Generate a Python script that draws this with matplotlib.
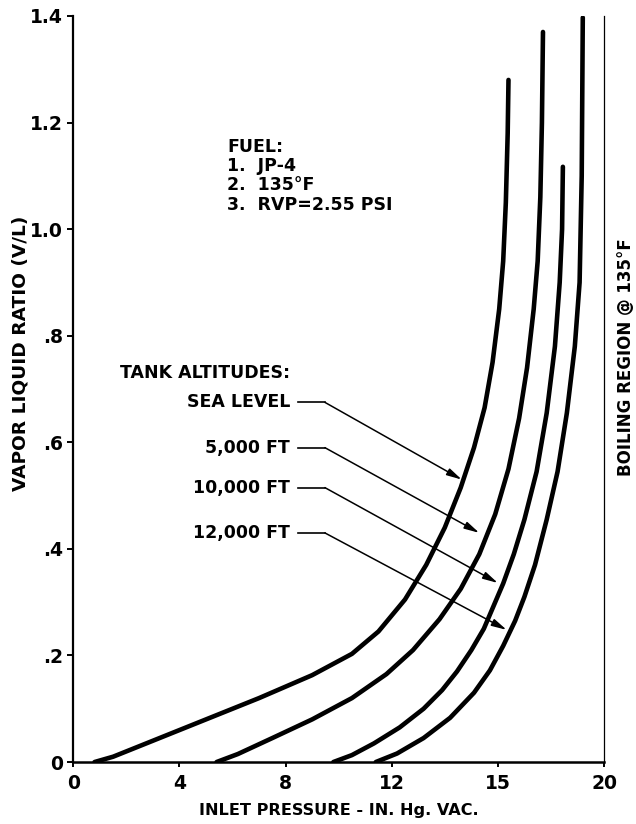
import matplotlib
matplotlib.use("Agg")
import matplotlib.pyplot as plt

plt.rcParams['font.family'] = ['DejaVu Sans']
plt.rcParams['font.weight'] = 'bold'

# curve readings (x = inlet pressure, in. Hg vac; y = V/L)
sea_x = [0.8, 1.5, 3.0, 5.0, 7.0, 9.0, 10.5, 11.5, 12.5, 13.3, 14.0, 14.6, 15.1, 15.5, 15.8, 16.05, 16.2, 16.3, 16.37, 16.4]
sea_y = [0.0, 0.01, 0.04, 0.08, 0.12, 0.163, 0.203, 0.245, 0.305, 0.37, 0.44, 0.515, 0.59, 0.665, 0.75, 0.85, 0.94, 1.05, 1.18, 1.28]

ft5k_x = [5.4, 6.2, 7.5, 9.0, 10.5, 11.8, 12.8, 13.8, 14.6, 15.3, 15.9, 16.4, 16.8, 17.1, 17.35, 17.5, 17.6, 17.66, 17.7]
ft5k_y = [0.0, 0.015, 0.045, 0.08, 0.12, 0.165, 0.21, 0.268, 0.325, 0.39, 0.465, 0.55, 0.645, 0.74, 0.85, 0.94, 1.06, 1.2, 1.37]

ft10k_x = [9.8, 10.5, 11.33, 12.3, 13.2, 13.9, 14.46, 15.0, 15.47, 16.2, 16.6, 17.0, 17.46, 17.84, 18.15, 18.33, 18.42, 18.45]
ft10k_y = [0.0, 0.013, 0.035, 0.065, 0.1, 0.135, 0.17, 0.21, 0.25, 0.335, 0.39, 0.455, 0.545, 0.655, 0.78, 0.9, 1.0, 1.117]

ft12k_x = [11.4, 12.2, 13.2, 14.2, 15.1, 15.7, 16.2, 16.65, 17.0, 17.4, 17.84, 18.25, 18.6, 18.9, 19.08, 19.16, 19.2]
ft12k_y = [0.0, 0.016, 0.045, 0.083, 0.13, 0.172, 0.218, 0.265, 0.31, 0.37, 0.455, 0.545, 0.655, 0.78, 0.9, 1.1, 1.397]

alt_labels = ['SEA LEVEL', '5,000 FT', '10,000 FT', '12,000 FT']
label_y = [0.675, 0.59, 0.515, 0.43]
arrow_tip_x = [14.64, 15.3, 16.0, 16.33]
arrow_tip_y = [0.53, 0.43, 0.336, 0.248]

xtick_pos = [0, 4, 8, 12, 16, 20]
xtick_lab = ['0', '4', '8', '12', '15', '20']
ytick_pos = [0, 0.2, 0.4, 0.6, 0.8, 1.0, 1.2, 1.4]
ytick_lab = ['0', '.2', '.4', '.6', '.8', '1.0', '1.2', '1.4']

fig = plt.figure(figsize=(6.36, 8.24), dpi=100)
ax = fig.add_axes([0.1153, 0.0752, 0.8344, 0.9054])

for xs, ys in [(sea_x, sea_y), (ft5k_x, ft5k_y), (ft10k_x, ft10k_y), (ft12k_x, ft12k_y)]:
    ax.plot(xs, ys, color='black', linewidth=3.3, solid_capstyle='round', solid_joinstyle='round')

ax.set_xlim(0, 20)
ax.set_ylim(0, 1.4)
ax.set_xticks(xtick_pos)
ax.set_xticklabels(xtick_lab)
ax.set_yticks(ytick_pos)
ax.set_yticklabels(ytick_lab)
ax.tick_params(axis='y', direction='out', length=4.5, width=1.4, labelsize=13.5, pad=3)
ax.tick_params(axis='x', direction='out', length=3.5, width=1.4, labelsize=13.5, pad=5)

ax.spines['top'].set_visible(False)
ax.spines['left'].set_linewidth(1.6)
ax.spines['bottom'].set_linewidth(1.8)
ax.spines['right'].set_linewidth(0.9)

ax.set_xlabel('INLET PRESSURE - IN. Hg. VAC.', fontsize=11.6, fontweight='bold', labelpad=7)
ax.set_ylabel('VAPOR LIQUID RATIO (V/L)', fontsize=13.3, fontweight='bold')
ax.yaxis.set_label_coords(-0.083, 0.548)

fig.text(0.985, 0.567, 'BOILING REGION @ 135°F', rotation=90, ha='center', va='center',
         fontsize=12, fontweight='bold')

ax.text(5.79, 1.10, 'FUEL:\n1.  JP-4\n2.  135°F\n3.  RVP=2.55 PSI', fontsize=12.5,
        fontweight='bold', va='center', ha='left', linespacing=1.08)
ax.text(8.17, 0.73, 'TANK ALTITUDES:', fontsize=12.5, fontweight='bold', ha='right', va='center')

for lab, ly, tx, ty in zip(alt_labels, label_y, arrow_tip_x, arrow_tip_y):
    ax.text(8.17, ly, lab, fontsize=12.5, fontweight='bold', ha='right', va='center')
    ax.plot([8.46, 9.48], [ly, ly], color='black', linewidth=1.2)
    ax.annotate('', xy=(tx, ty), xytext=(9.48, ly),
                arrowprops=dict(arrowstyle='-|>,head_length=0.9,head_width=0.22',
                                color='black', linewidth=1.1, shrinkA=0, shrinkB=0))

fig.savefig('out.png', dpi=100)
